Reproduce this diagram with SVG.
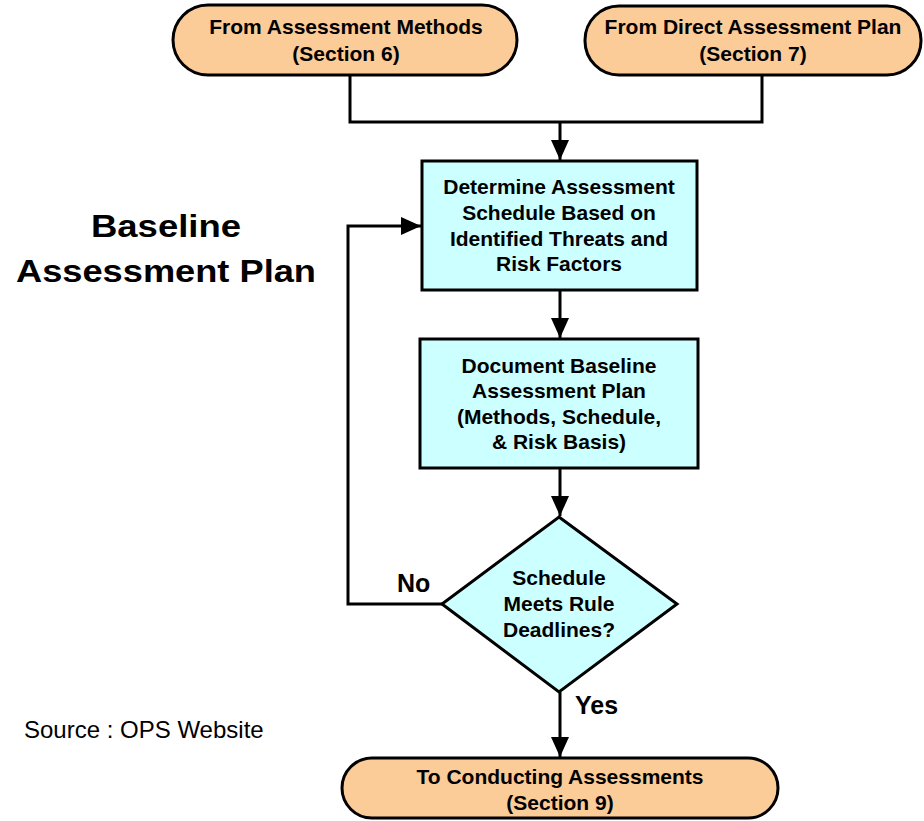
<svg xmlns="http://www.w3.org/2000/svg" width="924" height="821" viewBox="0 0 924 821">
  <style>
    .term { fill: #FBCB98; stroke: #000; stroke-width: 3; }
    .proc { fill: #CCFFFF; stroke: #000; stroke-width: 3; }
    .lbl { font-family: "Liberation Sans", Arial, sans-serif; font-weight: bold; font-size: 21px; fill: #000; text-anchor: middle; }
    .edge { font-family: "Liberation Sans", Arial, sans-serif; font-weight: bold; font-size: 25px; fill: #000; }
    .title { font-family: "Liberation Sans", Arial, sans-serif; font-weight: bold; font-size: 31px; fill: #000; text-anchor: middle; }
    .note { font-family: "Liberation Sans", Arial, sans-serif; font-size: 24px; fill: #000; }
    .wire { fill: none; stroke: #000; stroke-width: 3; }
  </style>
  <defs>
    <marker id="head" viewBox="0 0 20 20" refX="20" refY="10" markerWidth="20" markerHeight="20" markerUnits="userSpaceOnUse" orient="auto">
      <path d="M0,1 L20,10 L0,19 Z" fill="#000"/>
    </marker>
  </defs>

  <text class="title" x="166" y="237" textLength="150" lengthAdjust="spacingAndGlyphs">Baseline</text>
  <text class="title" x="166" y="282" textLength="300" lengthAdjust="spacingAndGlyphs">Assessment Plan</text>
  <text class="note" x="24" y="738">Source : OPS Website</text>

  <g id="connectors">
    <path class="wire" d="M350,75 V122 H762 V75"/>
    <path class="wire" d="M560,122 V160" marker-end="url(#head)"/>
    <path class="wire" d="M560,290 V338" marker-end="url(#head)"/>
    <path class="wire" d="M560,468 V516" marker-end="url(#head)"/>
    <path class="wire" d="M442,604 H348 V226 H421" marker-end="url(#head)"/>
    <path class="wire" d="M560,692 V757" marker-end="url(#head)"/>
    <text class="edge" x="397" y="592">No</text>
    <text class="edge" x="575" y="714">Yes</text>
  </g>

  <g id="from-methods">
    <rect class="term" x="173" y="5" width="344" height="70" rx="35" ry="35"/>
    <text class="lbl" x="346" y="34">From Assessment Methods</text>
    <text class="lbl" x="346" y="61">(Section 6)</text>
  </g>

  <g id="from-direct">
    <rect class="term" x="585" y="6" width="336" height="69" rx="34" ry="34"/>
    <text class="lbl" x="753" y="34">From Direct Assessment Plan</text>
    <text class="lbl" x="753" y="61">(Section 7)</text>
  </g>

  <g id="determine-schedule">
    <rect class="proc" x="422" y="161" width="275" height="129"/>
    <text class="lbl" x="559" y="194">Determine Assessment</text>
    <text class="lbl" x="559" y="220">Schedule Based on</text>
    <text class="lbl" x="559" y="246">Identified Threats and</text>
    <text class="lbl" x="559" y="271">Risk Factors</text>
  </g>

  <g id="document-plan">
    <rect class="proc" x="420" y="339" width="278" height="129"/>
    <text class="lbl" x="559" y="373">Document Baseline</text>
    <text class="lbl" x="559" y="398">Assessment Plan</text>
    <text class="lbl" x="559" y="424">(Methods, Schedule,</text>
    <text class="lbl" x="559" y="449">&amp; Risk Basis)</text>
  </g>

  <g id="deadline-check">
    <polygon class="proc" points="559,517 677,604 559,692 442,604"/>
    <text class="lbl" x="559" y="585">Schedule</text>
    <text class="lbl" x="559" y="611">Meets Rule</text>
    <text class="lbl" x="559" y="637">Deadlines?</text>
  </g>

  <g id="to-conducting">
    <rect class="term" x="342" y="758" width="436" height="60" rx="30" ry="30"/>
    <text class="lbl" x="560" y="784">To Conducting Assessments</text>
    <text class="lbl" x="560" y="810">(Section 9)</text>
  </g>
</svg>
